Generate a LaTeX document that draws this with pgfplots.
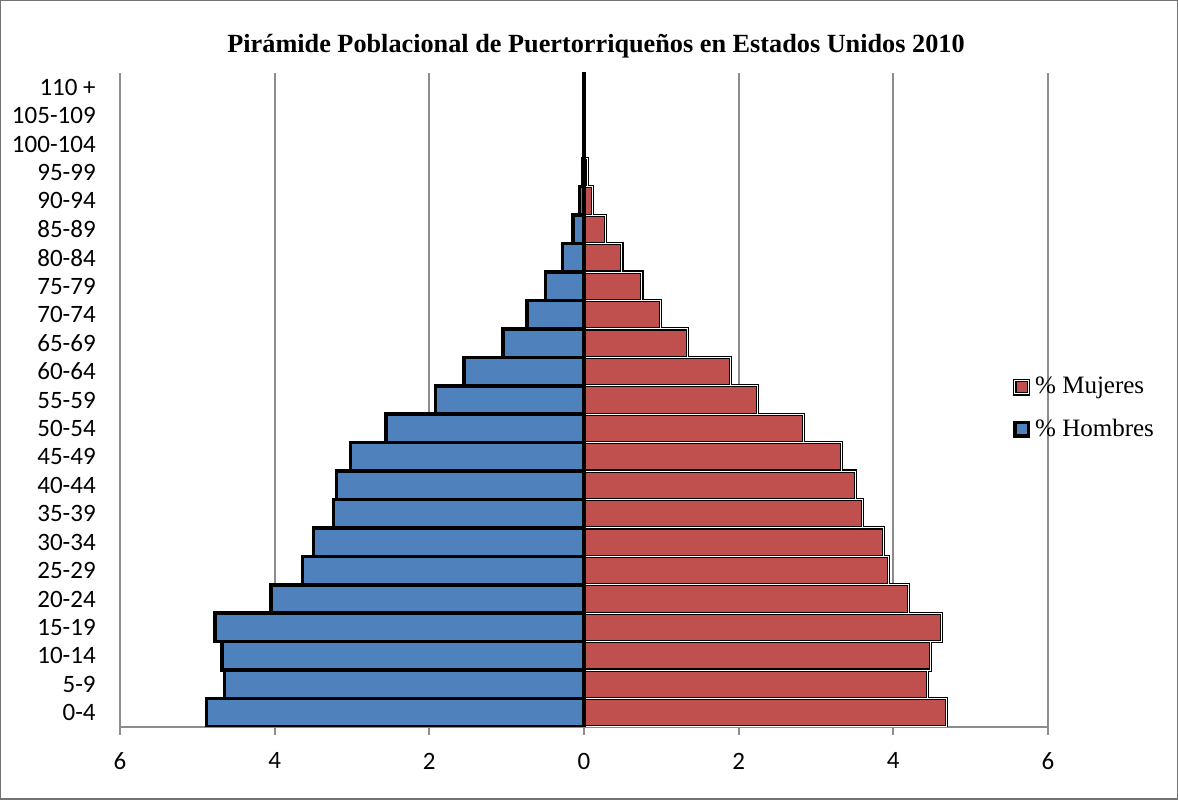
\documentclass[border=0pt]{standalone}
\usepackage{pgfplots}
\usepackage{pgfplotstable}
\pgfplotsset{compat=1.18}
\usepackage{fontspec}
\setmainfont{Liberation Serif}
\newfontfamily\calibri{Carlito}
\definecolor{hblue}{HTML}{4F81BD}
\definecolor{mred}{HTML}{C0504D}

\pgfplotstableread{
y hombres mujeres
0 -4.88 4.69
1 -4.65 4.44
2 -4.68 4.48
3 -4.77 4.62
4 -4.05 4.20
5 -3.64 3.94
6 -3.50 3.87
7 -3.24 3.60
8 -3.20 3.51
9 -3.02 3.33
10 -2.56 2.84
11 -1.92 2.24
12 -1.55 1.89
13 -1.05 1.34
14 -0.74 0.99
15 -0.50 0.75
16 -0.28 0.49
17 -0.14 0.28
18 -0.06 0.11
19 -0.01 0.04
20 -0.004 0.01
21 -0.002 0.005
22 -0.002 0.003
}\pyramid

\begin{document}
\begin{tikzpicture}
\draw[black!55, line width=0.6pt] (0.3pt,0.3pt) rectangle (470.9pt,319.7pt);
\node[font=\bfseries\fontsize{10.5}{12.5}\selectfont] at (238.4pt,301.6pt) {Pirámide Poblacional de Puertorriqueños en Estados Unidos 2010};
\begin{axis}[
  at={(48pt,29.2pt)}, anchor=south west,
  scale only axis, width=371.2pt, height=261.6pt,
  xmin=-6, xmax=6, ymin=-0.5, ymax=22.5,
  xtick={-6,-4,-2,0,2,4,6}, xticklabels={6,4,2,0,2,4,6},
  ytick={0,...,22},
  yticklabels={0-4,5-9,10-14,15-19,20-24,25-29,30-34,35-39,40-44,45-49,50-54,55-59,60-64,65-69,70-74,75-79,80-84,85-89,90-94,95-99,100-104,105-109,110 +},
  axis lines*=left,
  y axis line style={draw=none},
  x axis line style={draw=black!45, line width=0.8pt},
  xmajorgrids, grid style={black!45, line width=0.8pt},
  xtick style={draw=black!45, line width=0.8pt},
  tick align=outside, major tick length=3.2pt,
  ytick style={draw=none},
  tick label style={font=\calibri\fontsize{10}{12}\selectfont},
  yticklabel style={xshift=-3pt},
  xticklabel style={yshift=-3.6pt},
  xbar, bar width=1,
  legend style={draw=none, fill=none, at={(0.962,0.487)}, anchor=west,
    font=\fontsize{10}{12}\selectfont, row sep=4.6pt, inner sep=0pt,
    /tikz/every even column/.append style={column sep=3pt}},
  legend cell align=left,
  legend image code/.code={\draw[#1] (0pt,-2.7pt) rectangle (5.4pt,2.7pt);},
]
\addplot[xbar, bar shift=0pt, fill=mred, draw=black, line width=0.45pt, double=white, double distance=0.4pt]
  table[x=mujeres, y=y] {\pyramid};
\addlegendentry{\% Mujeres}
\addplot[xbar, bar shift=0pt, fill=hblue, draw=black, line width=1.4pt]
  table[x=hombres, y=y] {\pyramid};
\addlegendentry{\% Hombres}
\end{axis}
\end{tikzpicture}
\end{document}
